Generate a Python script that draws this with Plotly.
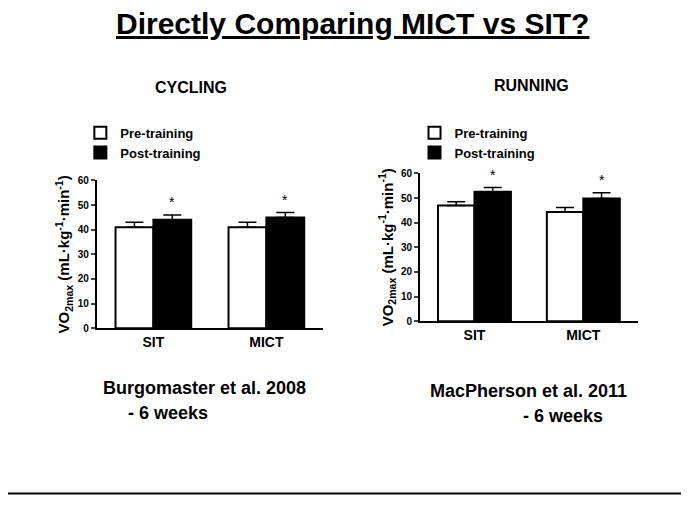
import plotly.graph_objects as go

groups = ["<b>SIT</b>", "<b>MICT</b>"]
cyc_pre = [41, 41]
cyc_pre_err = [2, 2]
cyc_post = [44, 45]
cyc_post_err = [2, 2]
run_pre = [47, 44.3]
run_pre_err = [1.5, 1.8]
run_post = [52.5, 49.8]
run_post_err = [1.8, 2.3]
yticks = [0, 10, 20, 30, 40, 50, 60]

F = "Liberation Sans, Arial"
fig = go.Figure()

def add_pair(pre, pre_e, post, post_e, xa, ya, leg):
    ebar = dict(type="data", visible=True, color="black", thickness=1.5, width=9)
    ebar_pre = dict(ebar, array=pre_e, arrayminus=[0, 0], symmetric=False)
    ebar_post = dict(ebar, array=post_e, arrayminus=[0, 0], symmetric=False)
    fig.add_bar(x=groups, y=pre, name="<b>Pre-training</b>", marker=dict(color="white", line=dict(color="black", width=2)),
                error_y=ebar_pre, xaxis=xa, yaxis=ya, legend=leg)
    fig.add_bar(x=groups, y=post, name="<b>Post-training</b>", marker=dict(color="black", line=dict(color="black", width=2)),
                error_y=ebar_post, xaxis=xa, yaxis=ya, legend=leg)
    for g, v, e in zip(groups, post, post_e):
        fig.add_annotation(x=g, y=v + e + 1, xref=xa, yref=ya, text="*", showarrow=False,
                           xshift=19, yanchor="bottom", font=dict(size=14, family=F, color="black"))

add_pair(cyc_pre, cyc_pre_err, cyc_post, cyc_post_err, "x", "y", "legend")
add_pair(run_pre, run_pre_err, run_post, run_post_err, "x2", "y2", "legend2")

ytitle = "<b>VO<sub>2max</sub> (mL·kg<sup>-1</sup>·min<sup>-1</sup>)</b>"
yax = dict(range=[0, 60], tickvals=yticks, ticktext=[f"<b>{t}</b>" for t in yticks], showline=True, linecolor="black",
           linewidth=2, ticks="outside", ticklen=4, tickwidth=2, showgrid=False, zeroline=False,
           tickfont=dict(size=10, family=F, color="black"), title=dict(text=ytitle, font=dict(size=15, family=F, color="black"), standoff=4))
xax = dict(showline=True, linecolor="black", linewidth=2, ticks="", tickfont=dict(size=14, family=F, color="black"))
leg = dict(font=dict(size=13, family=F, color="black"), bgcolor="rgba(0,0,0,0)", xanchor="left", yanchor="top",
           tracegroupgap=0, itemwidth=30)

fig.update_layout(
    width=689, height=517, margin=dict(l=0, r=0, t=0, b=0), plot_bgcolor="white", paper_bgcolor="white",
    barmode="group", bargap=0.33, bargroupgap=0,
    xaxis=dict(xax, domain=[0.129, 0.457], anchor="y"),
    yaxis=dict(yax, domain=[0.379, 0.671], anchor="x"),
    xaxis2=dict(xax, domain=[0.598, 0.914], anchor="y2"),
    yaxis2=dict(yax, domain=[0.393, 0.685], anchor="x2"),
    legend=dict(leg, x=0.105, y=0.795),
    legend2=dict(leg, x=0.59, y=0.795),
)

def txt(x, y, s, size):
    fig.add_annotation(x=x, y=y, xref="paper", yref="paper", text=s, showarrow=False,
                       xanchor="center", yanchor="middle", font=dict(size=size, family=F, color="black"))

txt(344 / 689, 1 - 10 / 517, "<b><u>Directly Comparing MICT vs SIT?</u></b>", 30)
txt(183 / 689, 1 - 75 / 517, "<b>CYCLING</b>", 16)
txt(523 / 689, 1 - 73 / 517, "<b>RUNNING</b>", 16)
txt(197 / 689, 1 - 382 / 517, "<b>Burgomaster et al. 2008</b>", 18)
txt(160 / 689, 1 - 408 / 517, "<b>- 6 weeks</b>", 18)
txt(520 / 689, 1 - 385 / 517, "<b>MacPherson et al. 2011</b>", 18)
txt(555 / 689, 1 - 411 / 517, "<b>- 6 weeks</b>", 18)
fig.add_shape(type="line", xref="paper", yref="paper", x0=0, x1=1, y0=1 - 490 / 517, y1=1 - 490 / 517,
              line=dict(color="black", width=2))

fig.write_html("out.html")
